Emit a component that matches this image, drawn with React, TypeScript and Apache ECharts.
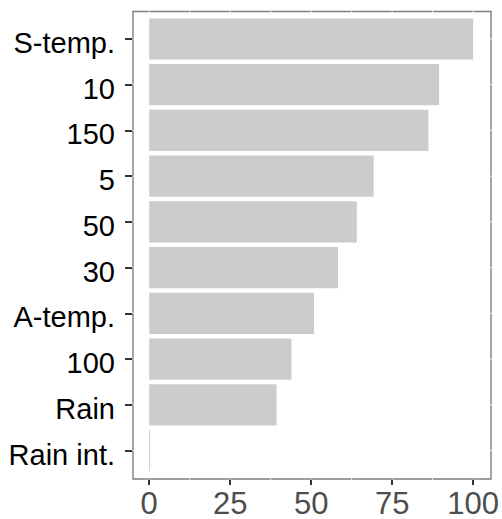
import React, { useEffect, useRef } from "react";
import * as echarts from "echarts";

const categories = ["S-temp.", "10", "150", "5", "50", "30", "A-temp.", "100", "Rain", "Rain int."];
const values = [100, 89.5, 86.2, 69.3, 64.1, 58.3, 50.9, 43.9, 39.3, 0.3];
const xTicks = [0, 25, 50, 75, 100];
const xGridBreaks = [0, 12.5, 25, 37.5, 50, 62.5, 75, 87.5, 100];

const PANEL = { x: 133, y: 11.5, w: 358, h: 467.5 };

export default function App() {
  const ref = useRef<HTMLDivElement>(null);
  useEffect(() => {
    if (!ref.current) return;
    const chart = echarts.init(ref.current, null, { renderer: "svg" });
    const font = "'Liberation Sans', Arial, Helvetica, sans-serif";
    const border = {
      type: "rect",
      z: 100,
      shape: { x: PANEL.x, y: PANEL.y, width: PANEL.w, height: PANEL.h },
      style: { fill: "none", stroke: "#7f7f7f", lineWidth: 1.4 },
    };
    chart.setOption({
      animation: false,
      backgroundColor: "#ffffff",
      grid: { left: 133, right: 11, top: 16.1, bottom: 44.6, containLabel: false },
      xAxis: {
        type: "value",
        min: -5,
        max: 105,
        offset: 4.6,
        axisLine: { show: false, onZero: false },
        axisTick: { show: true, length: 7, customValues: xTicks, lineStyle: { color: "#333333", width: 2 } },
        axisLabel: {
          margin: 15.5,
          color: "#4d4d4d",
          fontSize: 31,
          lineHeight: 20,
          fontFamily: font,
          customValues: xTicks,
        },
        splitLine: { show: false },
      },
      yAxis: {
        type: "category",
        data: categories,
        inverse: true,
        axisLine: { show: false, onZero: false },
        axisTick: { show: true, alignWithLabel: true, length: 8, lineStyle: { color: "#333333", width: 2 } },
        axisLabel: {
          margin: 18,
          color: "#000000",
          fontSize: 29,
          fontFamily: font,
          verticalAlign: "top",
          lineHeight: 8,
        },
        splitLine: { show: false },
      },
      series: [
        {
          type: "bar",
          data: values,
          barCategoryGap: "10%",
          itemStyle: { color: "#cccccc" },
          silent: true,
        },
      ],
      graphic: [border],
    });
    const gaps: any[] = [];
    xGridBreaks.forEach((b) => {
      const px = chart.convertToPixel({ xAxisIndex: 0 }, b) as number;
      [PANEL.y, PANEL.y + PANEL.h].forEach((yy) => {
        gaps.push({
          type: "line",
          z: 101,
          shape: { x1: px, y1: yy - 1, x2: px, y2: yy + 1 },
          style: { stroke: "#ffffff", lineWidth: 0.8 },
        });
      });
    });
    categories.forEach((c) => {
      const py = chart.convertToPixel({ yAxisIndex: 0 }, c) as number;
      [PANEL.x, PANEL.x + PANEL.w].forEach((xx) => {
        gaps.push({
          type: "line",
          z: 101,
          shape: { x1: xx - 1, y1: py, x2: xx + 1, y2: py },
          style: { stroke: "#ffffff", lineWidth: 0.8 },
        });
      });
    });
    chart.setOption({ graphic: [border, ...gaps] });
    return () => chart.dispose();
  }, []);
  return <div ref={ref} style={{ position: "fixed", left: 0, top: 0, width: 502, height: 519 }} />;
}
